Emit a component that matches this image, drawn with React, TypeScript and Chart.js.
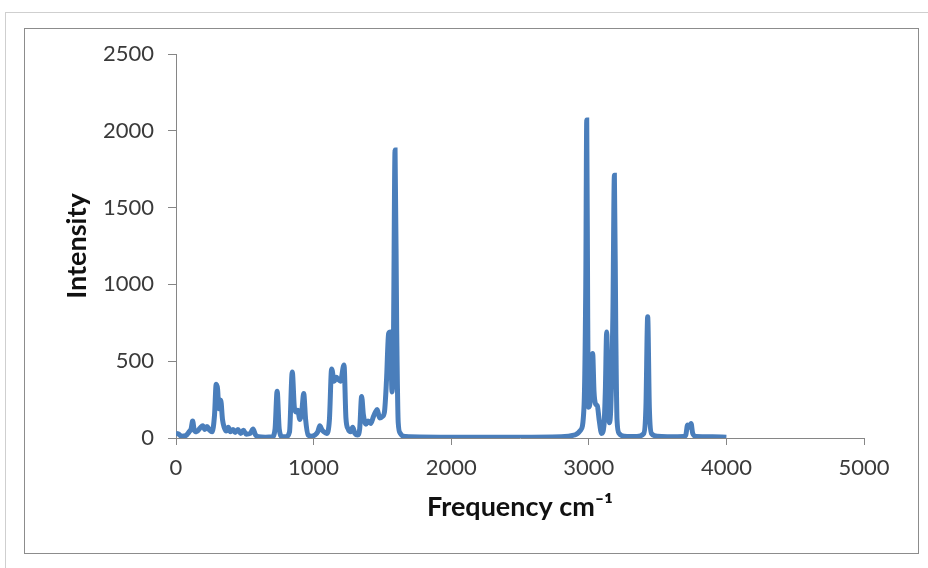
import React, { useEffect, useRef } from "react";
import { Chart, registerables } from "chart.js";

Chart.register(...registerables);

// Frequency (cm-1) and intensity
const frequencies = [
  0, 15, 40, 70, 95, 110, 121, 132, 150, 175, 195, 210, 225, 245, 262, 280, 292, 302, 312, 325, 338, 350,
  365, 380, 395, 415, 430, 450, 470, 490, 510, 540, 560, 578, 600, 650, 700, 720, 735, 750, 770, 800,
  825, 845, 860, 872, 885, 900, 915, 928, 942, 960, 985, 1010, 1030, 1045, 1060, 1075, 1095, 1115, 1131,
  1150, 1165, 1180, 1195, 1221, 1235, 1250, 1270, 1284, 1300, 1320, 1335, 1349, 1362, 1380, 1395, 1415,
  1435, 1450, 1462, 1480, 1500, 1515, 1530, 1545, 1558, 1570, 1580, 1592, 1604, 1615, 1630, 1650, 1700,
  2000, 2500, 2800, 2900, 2940, 2965, 2978, 2985, 2992, 2998, 3010, 3028, 3038, 3050, 3062, 3075, 3093,
  3110, 3120, 3130, 3140, 3149, 3160, 3175, 3186, 3196, 3205, 3220, 3260, 3350, 3400, 3415, 3428, 3440,
  3455, 3500, 3600, 3690, 3705, 3718, 3730, 3743, 3755, 3780, 3900, 4000,
];
const intensities = [
  30, 28, 12, 15, 40, 60, 110, 55, 40, 65, 80, 55, 75, 50, 40, 150, 350, 320, 190, 245, 120, 70,
  45, 70, 40, 55, 35, 55, 30, 50, 25, 30, 58, 20, 8, 5, 8, 60, 305, 60, 10, 8,
  40, 430, 200, 170, 180, 120, 180, 290, 120, 20, 12, 20, 40, 80, 55, 40, 30, 120, 450,
  370, 395, 380, 370, 475, 130, 60, 40, 70, 30, 20, 60, 270, 150, 90, 110, 95,
  140, 170, 185, 130, 140, 170, 380, 680, 690, 300, 600, 1875, 700, 100, 30, 12, 8,
  5, 5, 8, 20, 50, 200, 1000, 2070, 800, 200, 240, 550, 300, 220, 210, 120, 30,
  80, 300, 690, 300, 100, 200, 800, 1710, 700, 120, 30, 12, 10, 30, 200, 790, 200,
  30, 12, 8, 10, 20, 85, 70, 95, 30, 10, 8, 5,
];

const xTicks = [0, 1000, 2000, 3000, 4000, 5000];
const yTicks = [0, 500, 1000, 1500, 2000, 2500];

const xTitle = "Frequency cm\u207B\u00B9";
const yTitle = "Intensity";

export default function App() {
  const ref = useRef<HTMLCanvasElement | null>(null);

  useEffect(() => {
    if (!ref.current) return;
    const points = frequencies.map((f, i) => ({ x: f, y: intensities[i] }));
    const axisColor = "#868686";
    const tickFont = { family: "Lato", size: 22 };
    const titleFont = { family: "Lato", size: 27, weight: "bold" };
    const plain = (v: any) => String(v);
    const chart = new Chart(ref.current, {
      type: "line",
      data: {
        datasets: [
          {
            data: points,
            borderColor: "#4a7ebb",
            borderWidth: 5,
            pointRadius: 0,
            cubicInterpolationMode: "monotone",
            fill: false,
          },
        ],
      },
      options: {
        animation: false,
        responsive: false,
        events: [],
        layout: { padding: { top: 54, right: 64, left: 0, bottom: 0 } },
        plugins: { legend: { display: false }, tooltip: { enabled: false } },
        scales: {
          x: {
            type: "linear",
            min: xTicks[0],
            max: xTicks[xTicks.length - 1],
            afterBuildTicks: (s: any) => {
              s.ticks = xTicks.map((v) => ({ value: v }));
            },
            afterFit: (s: any) => {
              s.height = 130;
            },
            grid: { drawOnChartArea: false, tickLength: 7, color: axisColor },
            border: { color: axisColor, width: 1 },
            ticks: { color: "#3a3a3a", font: tickFont, padding: 10, maxRotation: 0, callback: plain },
            title: {
              display: true,
              text: xTitle,
              color: "#111",
              font: titleFont,
              padding: { top: 0, bottom: 45 },
            },
          },
          y: {
            type: "linear",
            min: yTicks[0],
            max: yTicks[yTicks.length - 1],
            afterBuildTicks: (s: any) => {
              s.ticks = yTicks.map((v) => ({ value: v }));
            },
            afterFit: (s: any) => {
              s.width = 176;
            },
            grid: { drawOnChartArea: false, tickLength: 8, color: axisColor },
            border: { color: axisColor, width: 1 },
            ticks: { color: "#3a3a3a", font: tickFont, padding: 14, callback: plain },
            title: {
              display: true,
              text: yTitle,
              color: "#111",
              font: titleFont,
              padding: { top: 61, bottom: 0 },
            },
          },
        },
      },
    } as any);
    return () => chart.destroy();
  }, []);

  return (
    <div style={{ position: "absolute", left: 0, top: 0, width: 928, height: 568, background: "#fff", overflow: "hidden" }}>
      <div
        style={{
          position: "absolute",
          left: 5,
          top: 12,
          width: 940,
          height: 600,
          borderTop: "1px solid #cfcfcf",
          borderLeft: "1px solid #cfcfcf",
        }}
      />
      <div
        style={{
          position: "absolute",
          left: 24,
          top: 28,
          width: 893,
          height: 524,
          border: "1px solid #8c8c8c",
        }}
      />
      <canvas ref={ref} width={928} height={568} style={{ position: "absolute", left: 0, top: 0 }} />
    </div>
  );
}
